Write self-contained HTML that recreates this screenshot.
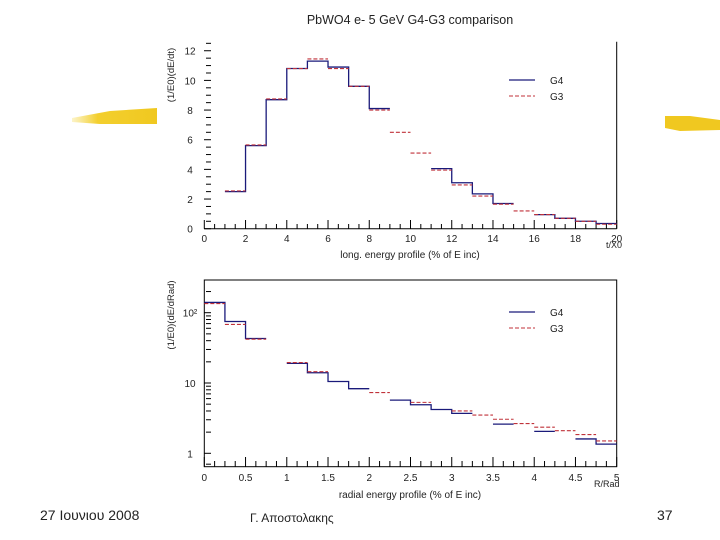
<!DOCTYPE html>
<html><head><meta charset="utf-8"><style>
body{margin:0;background:#fff;width:720px;height:540px;overflow:hidden;font-family:"Liberation Sans",sans-serif}
svg{display:block}
text{font-family:"Liberation Sans","DejaVu Sans",sans-serif;fill:#222}
</style></head><body>
<svg id="s" width="720" height="540">
<defs>
<linearGradient id="hl" x1="0" x2="1"><stop offset="0" stop-color="#f5d84a" stop-opacity="0.3"/><stop offset="0.3" stop-color="#f3cf2e"/><stop offset="1" stop-color="#f0c820"/></linearGradient>
</defs>
<polygon points="72,118 110,111 157,108 157,124 100,124 72,122" fill="url(#hl)"/>
<polygon points="665,116 690,116 720,120 720,130 680,131 665,128" fill="#f0c820"/>
<text x="410" y="24" font-size="12.5" text-anchor="middle">PbWO4  e- 5 GeV   G4-G3 comparison</text>
<g id="top"></g>
<g id="bot"></g>
<text x="40" y="520" font-size="14">27 Ιουνιου 2008</text>
<text x="250" y="522" font-size="12" fill="#555">Γ. Αποστολακης</text>
<text x="657" y="520" font-size="14">37</text>
</svg>
<script>
// Longitudinal profile (bins of width 1 starting at t=1)
const topBinStart = 1;
const topG4 = [2.5,5.6,8.7,10.8,11.3,10.9,9.6,8.1,null,null,4.05,3.1,2.35,1.7,null,0.95,0.7,0.5,0.35];
const topG3 = [2.55,5.65,8.75,10.8,11.45,10.8,9.6,8.0,6.5,5.1,3.95,2.95,2.2,1.65,1.2,0.95,0.7,0.5,0.3];
const topYTicks = [0,2,4,6,8,10,12];
const topXTicks = [0,2,4,6,8,10,12,14,16,18,20];
// Radial profile (bins of width 0.25)
const botG4 = [140,75,43,null,19,14,10.5,8.3,null,5.7,4.9,4.2,3.7,null,2.6,null,2.05,null,1.6,1.35];
const botG3 = [135,68,42,null,19.5,14.5,null,null,7.3,null,5.3,null,4.0,3.5,3.05,2.65,2.35,2.1,1.85,1.5];
const botYTicks = [1,10,100];
const botYLabels = ["1","10","10²"];
const botXTicks = [0,0.5,1,1.5,2,2.5,3,3.5,4,4.5,5];

const NS="http://www.w3.org/2000/svg";
function mk(p,t,a){const e=document.createElementNS(NS,t);for(const k in a)e.setAttribute(k,a[k]);p.appendChild(e);return e;}
const X0=204.3,X1=616.7;

// ---- top chart
const T=document.getElementById('top');
const tx=v=>X0+(X1-X0)*v/20, ty=v=>228.7-v*14.83;
let l=mk(T,'line',{x1:X0,x2:X1,y1:228.7,y2:228.7,stroke:'#000'});


l=mk(T,'line',{x1:X1,x2:X1,y1:41.7,y2:228.7,stroke:'#000'});


for(let v=0;v<=12.5;v+=0.5){const major=v%2===0;mk(T,'line',{x1:major?204:206,x2:211,y1:ty(v),y2:ty(v),stroke:'#000'});}
topYTicks.forEach(v=>{const t=mk(T,'text',{x:190,y:ty(v)+4,'font-size':10,'text-anchor':'middle'});t.textContent=v;

});
for(let v=0;v<=20;v+=0.5){const major=v%2===0;mk(T,'line',{x1:tx(v),x2:tx(v),y1:228.7,y2:major?220:224,stroke:'#000'});}
topXTicks.forEach(v=>{const t=mk(T,'text',{x:tx(v),y:242,'font-size':10,'text-anchor':'middle'});t.textContent=v;

});
let tt=mk(T,'text',{x:606,y:248,'font-size':9});tt.textContent='t/X0';


tt=mk(T,'text',{x:410,y:258,'font-size':10,'text-anchor':'middle'});tt.textContent='long. energy profile (% of E inc)';


tt=mk(T,'text',{x:0,y:0,'font-size':9.5,'text-anchor':'middle',transform:'translate(174,75) rotate(-90)'});tt.textContent='(1/E0)(dE/dt)';


function steps(g,vals,start,w,fx,fy,name){
  let d='';let prev=null;
  vals.forEach((v,i)=>{const a=start+i*w,b=a+w;
    if(v==null){prev=null;return;}
    if(prev==null)d+=`M${fx(a)},${fy(v)}`;
    d+=`L${fx(a)},${fy(v)}L${fx(b)},${fy(v)}`;prev=v;});
  const p=mk(g,'path',{d:d,fill:'none',stroke:'#1a1a7a','stroke-width':1.3});
  
  
}
function dashes(g,vals,start,w,fx,fy,name){
  vals.forEach((v,i)=>{if(v==null)return;const a=start+i*w;
    const s=mk(g,'line',{x1:fx(a),x2:fx(a+w),y1:fy(v),y2:fy(v),stroke:'#c0323a','stroke-width':1.1,'stroke-dasharray':'4,2'});
    
    });
}
steps(T,topG4,topBinStart,1,tx,ty,'g4-series');
dashes(T,topG3,topBinStart,1,tx,ty,'g3-bin');
function legend(g,y1){
  let a=mk(g,'line',{x1:509,x2:535,y1:y1,y2:y1,stroke:'#1a1a7a','stroke-width':1.3});
  
  let t=mk(g,'text',{x:550,y:y1+4,'font-size':10});t.textContent='G4';
  
  a=mk(g,'line',{x1:509,x2:535,y1:y1+16,y2:y1+16,stroke:'#c0323a','stroke-dasharray':'4,2'});
  
  t=mk(g,'text',{x:550,y:y1+20,'font-size':10});t.textContent='G3';
  
}
legend(T,80);

// ---- bottom chart
const B=document.getElementById('bot');
const bx=v=>X0+(X1-X0)*v/5, by=v=>453.3-70.3*Math.log10(v);
l=mk(B,'rect',{x:X0,y:280,width:X1-X0,height:466.7-280,fill:'none',stroke:'#000'});


[1,10,100].forEach(d=>{for(let k=1;k<=9;k++){const v=d*k;if(by(v)<282)continue;mk(B,'line',{x1:k===1?204:206,x2:211,y1:by(v),y2:by(v),stroke:'#000'});}});
mk(B,'line',{x1:206,x2:211,y1:by(0.7),y2:by(0.7),stroke:'#000'});
botYTicks.forEach((v,i)=>{const t=mk(B,'text',{x:190,y:by(v)+4,'font-size':10,'text-anchor':'middle'});t.textContent=botYLabels[i];

});
for(let v=0;v<=5.001;v+=0.125){const major=Math.abs(v*2-Math.round(v*2))<1e-6;mk(B,'line',{x1:bx(v),x2:bx(v),y1:466.7,y2:major?457:461,stroke:'#000'});}
botXTicks.forEach(v=>{const t=mk(B,'text',{x:bx(v),y:481,'font-size':10,'text-anchor':'middle'});t.textContent=v;

});
tt=mk(B,'text',{x:594,y:487,'font-size':9});tt.textContent='R/Rad';


tt=mk(B,'text',{x:410,y:498,'font-size':10,'text-anchor':'middle'});tt.textContent='radial energy profile (% of E inc)';


tt=mk(B,'text',{x:0,y:0,'font-size':9.5,'text-anchor':'middle',transform:'translate(174,315) rotate(-90)'});tt.textContent='(1/E0)(dE/dRad)';


steps(B,botG4,0,0.25,bx,by,'g4-series');
dashes(B,botG3,0,0.25,bx,by,'g3-bin');
legend(B,312);
</script>
</body></html>
